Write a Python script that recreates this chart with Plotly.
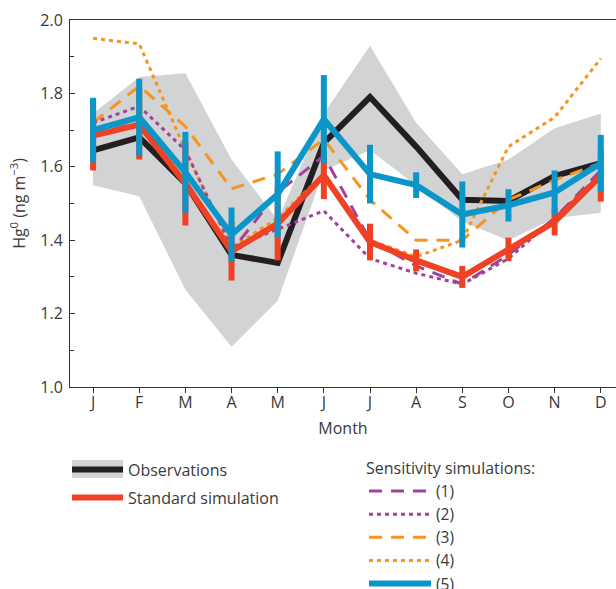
import plotly.graph_objects as go

months = ["J", "F", "M", "A", "M", "J", "J", "A", "S", "O", "N", "D"]
x = list(range(1, 13))

# Observations (mean) and observed range (grey band)
obs = [1.645, 1.68, 1.555, 1.36, 1.338, 1.665, 1.79, 1.655, 1.51, 1.507, 1.575, 1.61]
obs_upper = [1.745, 1.845, 1.855, 1.62, 1.455, 1.745, 1.93, 1.72, 1.58, 1.62, 1.705, 1.745]
obs_lower = [1.55, 1.52, 1.265, 1.11, 1.235, 1.59, 1.645, 1.55, 1.45, 1.40, 1.46, 1.475]

# Standard simulation with error bars
std_sim = [1.685, 1.715, 1.555, 1.37, 1.445, 1.577, 1.395, 1.345, 1.30, 1.375, 1.45, 1.575]
std_err = [0.095, 0.095, 0.115, 0.08, 0.10, 0.065, 0.05, 0.03, 0.03, 0.032, 0.037, 0.07]

# Sensitivity simulations
sens1 = [1.69, 1.72, 1.56, 1.37, 1.53, 1.63, 1.40, 1.33, 1.28, 1.36, 1.46, 1.59]
sens2 = [1.72, 1.765, 1.645, 1.38, 1.43, 1.48, 1.35, 1.31, 1.28, 1.35, 1.46, 1.58]
sens3 = [1.72, 1.82, 1.71, 1.54, 1.58, 1.675, 1.51, 1.40, 1.40, 1.51, 1.564, 1.61]
sens4 = [1.95, 1.935, 1.645, 1.38, 1.46, 1.58, 1.40, 1.355, 1.40, 1.655, 1.735, 1.895]
sens5 = [1.70, 1.735, 1.585, 1.415, 1.525, 1.73, 1.58, 1.55, 1.47, 1.495, 1.53, 1.61]
sens5_err = [0.088, 0.105, 0.11, 0.074, 0.117, 0.12, 0.08, 0.035, 0.09, 0.044, 0.06, 0.077]

BLACK = "#231f20"
RED = "#ef4123"
BLUE = "#0a96c8"
PURPLE = "#a0449a"
ORANGE = "#f7941d"
GREY = "#d1d3d4"
FONT = "Open Sans"
TXT = "#3a3a3a"

# plot-area geometry (pixels) used to place legends in paper coordinates
PX0, PW, PY0, PH = 70, 546, 20, 367


def px(xp):
    return (xp - PX0) / PW


def py(yp):
    return (PY0 + PH - yp) / PH


fig = go.Figure()

# grey band
fig.add_trace(go.Scatter(x=x, y=obs_lower, mode="lines", line=dict(width=0, color=GREY),
                         showlegend=False, hoverinfo="skip"))
fig.add_trace(go.Scatter(x=x, y=obs_upper, mode="lines", line=dict(width=0, color=GREY),
                         fill="tonexty", fillcolor=GREY, showlegend=False, hoverinfo="skip"))

fig.add_trace(go.Scatter(x=x, y=obs, mode="lines", name="Observations",
                         line=dict(color=BLACK, width=6), legend="legend"))

fig.add_trace(go.Scatter(x=x, y=sens4, mode="lines", name="(4)",
                         line=dict(color=ORANGE, width=3, dash="4px,4px"), legend="legend2",
                         legendrank=4))
fig.add_trace(go.Scatter(x=x, y=sens3, mode="lines", name="(3)",
                         line=dict(color=ORANGE, width=3, dash="13px,9px"), legend="legend2",
                         legendrank=3))
fig.add_trace(go.Scatter(x=x, y=sens2, mode="lines", name="(2)",
                         line=dict(color=PURPLE, width=3, dash="4px,4px"), legend="legend2",
                         legendrank=2))
fig.add_trace(go.Scatter(x=x, y=sens1, mode="lines", name="(1)",
                         line=dict(color=PURPLE, width=3, dash="13px,9px"), legend="legend2",
                         legendrank=1))

fig.add_trace(go.Scatter(x=x, y=std_sim, mode="lines", name="Standard simulation",
                         line=dict(color=RED, width=6), legend="legend3",
                         error_y=dict(type="data", array=std_err, color=RED, thickness=6, width=0)))

fig.add_trace(go.Scatter(x=x, y=sens5, mode="lines", name="(5)",
                         line=dict(color=BLUE, width=6), legend="legend2", legendrank=5,
                         error_y=dict(type="data", array=sens5_err, color=BLUE, thickness=6, width=0)))

# grey background behind the Observations legend symbol
fig.add_shape(type="rect", xref="paper", yref="paper",
              x0=px(72), x1=px(123), y0=py(478), y1=py(460),
              fillcolor=GREY, line=dict(width=0), layer="below")

legend_common = dict(bgcolor="rgba(0,0,0,0)", borderwidth=0,
                     xanchor="left", yanchor="top", traceorder="normal")

fig.update_layout(
    width=616, height=589,
    margin=dict(l=70, r=0, t=20, b=202, autoexpand=False),
    paper_bgcolor="white", plot_bgcolor="white",
    font=dict(family=FONT, size=16, color=TXT),
    xaxis=dict(range=[0.5, 12.33], tickvals=x, ticktext=months,
               showline=True, linecolor="#333333", linewidth=1, mirror=True,
               ticks="outside", ticklen=5, tickcolor="#333333",
               ticklabelstandoff=-4,
               showgrid=False, zeroline=False,
               title=dict(text="Month", font=dict(size=16, color=TXT), standoff=10),
               tickfont=dict(size=16, color=TXT)),
    yaxis=dict(range=[1.0, 2.0], dtick=0.2, tick0=1.0, tickformat=".1f",
               showline=True, linecolor="#333333", linewidth=1,
               ticks="inside", ticklen=5, tickcolor="#333333",
               ticklabelstandoff=3,
               minor=dict(dtick=0.1, ticks="inside", ticklen=4, tickcolor="#333333", showgrid=False),
               showgrid=False, zeroline=False,
               title=dict(text="Hg<sup>0</sup> (ng m<sup>−3</sup>)", font=dict(size=16, color=TXT), standoff=10),
               tickfont=dict(size=16, color=TXT)),
    legend=dict(x=px(67), y=py(452.5), itemwidth=51,
                font=dict(family=FONT, size=16, color=TXT), **legend_common),
    legend3=dict(x=px(67), y=py(480.5), itemwidth=51,
                 font=dict(family=FONT, size=16, color=TXT), **legend_common),
    legend2=dict(x=px(364), y=py(453.6), itemwidth=62,
                 font=dict(family=FONT, size=15.5, color=TXT),
                 title=dict(text="Sensitivity simulations:", font=dict(family=FONT, size=16, color=TXT)),
                 **legend_common),
    showlegend=True,
)

fig.write_html("out.html")
